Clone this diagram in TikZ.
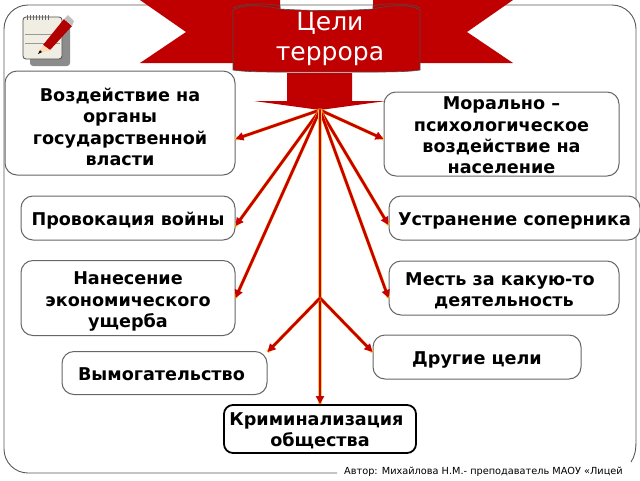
\documentclass[tikz,border=0pt]{standalone}
\usepackage{fontspec}
\setmainfont{DejaVu Sans}
\usetikzlibrary{arrows.meta}
\definecolor{banred}{RGB}{192,0,0}
\definecolor{arrowred}{RGB}{200,0,0}
\definecolor{glow}{RGB}{255,204,60}
\definecolor{padcream}{RGB}{240,238,226}
\tikzset{
 goal/.style={draw=black!60,line width=1pt,fill=white,rounded corners=12pt,inner sep=0pt},
 goaltext/.style={align=center,inner sep=0pt,font=\fontsize{17.6}{21.4}\selectfont\bfseries},
 ban/.style={fill=banred,draw=black!70,line width=0.6pt},
 banf/.style={fill=banred},
}
\newcommand{\goalarrow}[2]{%
 \draw[glow,line width=3.4pt,shift={(0.9,0.4)}] #1 -- #2;
 \draw[arrowred,line width=2.7pt,-{Triangle[length=8pt,width=8pt]}] #1 -- #2;}
\begin{document}
\begin{tikzpicture}[x=1pt,y=-1pt]
\useasboundingbox (0,0) rectangle (640,480);
\fill[white] (0,0) rectangle (640,480);
% frame
\draw[black!65,line width=0.9pt,rounded corners=24pt] (337,473) -- (4,473) -- (4,5) -- (636,5) -- (636,440);
\draw[black!65,line width=0.9pt] (636,440) .. controls (636,450) and (635,456) .. (631,462);
% ribbon
\fill[banf] (140,0) -- (280,0) -- (280,63) -- (140,63) -- (186,32) -- cycle;
\fill[banf] (513,0) -- (373,0) -- (373,63) -- (513,63) -- (467,32) -- cycle;
\draw[ban] (233,8) .. controls (240,3) and (272,3) .. (280,6) -- (280,12);
\draw[ban] (420,8) .. controls (413,3) and (381,3) .. (373,6) -- (373,12);
% banner
\path[ban] (233,10) .. controls (245,3) and (268,6) .. (280,9) .. controls (310,11) and (345,11) .. (373,9) .. controls (385,6) and (408,3) .. (420,10) -- (420,70) .. controls (408,72) and (385,72) .. (373,72) -- (280,72) .. controls (268,72) and (245,72) .. (233,70) -- cycle;
\node[text=white,align=center,font=\fontsize{25}{30}\selectfont,inner sep=0pt] (title) at (330,39) {Цели\\террора};
% big arrow
\fill[banf] (287,73) -- (352,73) -- (352,101) -- (386,101) -- (320,110) -- (254,101) -- (287,101) -- cycle;
\coordinate (hub) at (320,110);
\coordinate (fork) at (320,298);
% boxes
\node[goal,minimum width=230pt,minimum height=104pt] (a) at (120,123) {};
\node[goal,minimum width=235pt,minimum height=84pt] (b) at (501.5,134) {};
\node[goal,minimum width=214pt,minimum height=44pt] (c) at (128,218) {};
\node[goal,minimum width=251pt,minimum height=44pt] (d) at (514.5,218) {};
\node[goal,minimum width=214pt,minimum height=75pt] (e) at (128,298) {};
\node[goal,minimum width=230pt,minimum height=54pt] (f) at (504,288) {};
\node[goal,minimum width=208pt,minimum height=44pt] (g) at (477,357) {};
\node[goal,minimum width=205pt,minimum height=43pt] (h) at (164.5,373) {};
\node[goal,draw=black,line width=1.8pt,rounded corners=9pt,minimum width=192pt,minimum height=48pt] (i) at (320,429) {};
% texts
\node[goaltext] (at) at ([yshift=-4pt]a.center) {Воздействие на\\органы\\государственной\\власти};
\node[goaltext] (bt) at ([yshift=-1.5pt]b.center) {Морально –\\психологическое\\воздействие на\\население};
\node[goaltext] (ct) at ([yshift=-3pt]c.center) {Провокация войны};
\node[goaltext] (dt) at ([yshift=-3pt]d.center) {Устранение соперника};
\node[goaltext] (et) at ([yshift=-3.5pt]e.center) {Нанесение\\экономического\\ущерба};
\node[goaltext] (ft) at ([yshift=-3pt]f.center) {Месть за какую-то\kern8pt\\деятельность};
\node[goaltext] (gt) at ([yshift=-3pt]g.center) {Другие цели};
\node[goaltext] (ht) at ([xshift=-3pt,yshift=-1.5pt]h.center) {Вымогательство};
\node[goaltext] (it) at ([yshift=-2pt]i.center) {Криминализация\kern7pt\\общества};
% arrows
\coordinate (ta) at ([yshift=-16pt]a.east);
\coordinate (tb) at ([yshift=-5pt]b.west);
\coordinate (tc) at ([yshift=-8pt]c.east);
\coordinate (td) at ([yshift=-7pt]d.west);
\coordinate (te) at (e.east);
\coordinate (tf) at ([yshift=-10pt]f.west);
\coordinate (tg) at ([yshift=5pt]g.west);
\coordinate (th) at ([yshift=21pt]h.east);
\coordinate (ti) at (i.north);
\goalarrow{(hub)}{(ta)}
\goalarrow{(hub)}{(tb)}
\goalarrow{(hub)}{(tc)}
\goalarrow{(hub)}{(td)}
\goalarrow{(hub)}{(te)}
\goalarrow{(hub)}{(tf)}
\goalarrow{(hub)}{(ti)}
\goalarrow{(fork)}{(tg)}
\goalarrow{(fork)}{(th)}
% notepad icon
\fill[black!45,rounded corners=3pt] (30,25) rectangle (70,66);
\draw[black!70,fill=padcream,rounded corners=3pt,line width=0.8pt] (23,17) rectangle (62,59);
\foreach \x in {27,30,...,48} \draw[black!60,line width=0.8pt] (\x,15) -- (\x,20);
\draw[black!40] (25,34) -- (60,34) (25,43) -- (60,43);
\fill[red!70!black] (43,45) -- (64,19) -- (72,26) -- (50,50) -- cycle;
\fill[orange!30] (43,45) -- (50,50) -- (38,54) -- cycle;
\fill[black] (38,54) -- (40,50) -- (42,52) -- cycle;
\fill[black!25] (64,19) -- (68,15) -- (74,21) -- (72,26) -- cycle;
% author
\node[anchor=west,inner sep=0pt,font=\fontsize{9.75}{11}\selectfont] (author) at (344,472) {Автор: Михайлова Н.М.- преподаватель МАОУ «Лицей};
\end{tikzpicture}
\end{document}
